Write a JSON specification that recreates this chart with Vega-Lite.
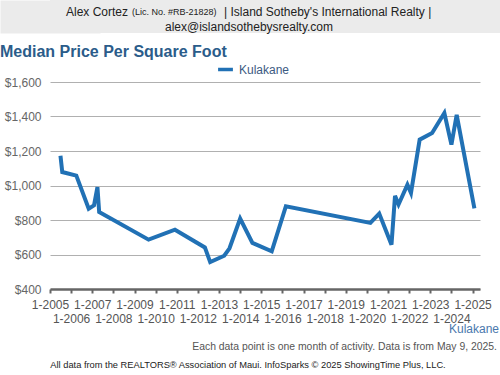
{
  "$schema": "https://vega.github.io/schema/vega-lite/v6.json",
  "padding": 0,
  "spacing": 11,
  "columns": 1,
  "background": "white",
  "resolve": {"legend": {"color": "independent"}, "scale": {"x": "independent", "y": "independent", "color": "independent"}},
  "config": {"font": "Liberation Sans", "view": {"stroke": null}},
  "concat": [
    {
      "width": 450,
      "height": 33,
      "view": {"fill": "#ebebeb", "stroke": null},
      "data": {"values": [
        {"line": 1, "part": "a", "text": "Alex Cortez"},
        {"line": 1, "part": "b", "text": "(Lic. No. #RB-21828)"},
        {"line": 1, "part": "c", "text": "| Island Sotheby's International Realty |"},
        {"line": 2, "part": "d", "text": "alex@islandsothebysrealty.com"}
      ]},
      "encoding": {
        "x": {"datum": 0.5, "type": "quantitative", "axis": null, "scale": {"domain": [0, 1]}},
        "y": {
          "field": "line", "type": "ordinal",
          "scale": {"padding": 0.6},
          "axis": {"title": null, "labels": false, "ticks": false, "grid": false, "domain": true, "domainColor": "#ebebeb", "domainWidth": 100, "domainCap": "butt", "offset": 0, "minExtent": 50, "maxExtent": 50}
        },
        "text": {"field": "text"}
      },
      "layer": [
        {"transform": [{"filter": "datum.part == 'a'"}], "mark": {"type": "text", "dx": -147, "dy": 3, "align": "right", "baseline": "middle", "fontSize": 12, "color": "#222222"}},
        {"transform": [{"filter": "datum.part == 'b'"}], "mark": {"type": "text", "dx": -143, "dy": 3, "align": "left", "baseline": "middle", "fontSize": 9, "color": "#222222"}},
        {"transform": [{"filter": "datum.part == 'c'"}], "mark": {"type": "text", "dx": -51, "dy": 3, "align": "left", "baseline": "middle", "fontSize": 12, "color": "#222222"}},
        {"transform": [{"filter": "datum.part == 'd'"}], "mark": {"type": "text", "dx": -26, "dy": 3, "align": "center", "baseline": "middle", "fontSize": 12, "color": "#222222"}}
      ]
    },
    {
      "width": 430,
      "height": 207,
      "title": {"text": "Median Price Per Square Foot", "anchor": "start", "frame": "bounds", "fontSize": 16, "fontWeight": "bold", "color": "#2b5c8a", "offset": 0},
      "layer": [
        {
          "data": {"values": [
            {"date": "2005-07-01T00:00:00", "area": "Kulakane", "price": 1172},
            {"date": "2005-08-01T00:00:00", "area": "Kulakane", "price": 1078},
            {"date": "2006-04-01T00:00:00", "area": "Kulakane", "price": 1057},
            {"date": "2006-11-01T00:00:00", "area": "Kulakane", "price": 865},
            {"date": "2007-02-01T00:00:00", "area": "Kulakane", "price": 885},
            {"date": "2007-04-01T00:00:00", "area": "Kulakane", "price": 991},
            {"date": "2007-05-01T00:00:00", "area": "Kulakane", "price": 846},
            {"date": "2009-09-01T00:00:00", "area": "Kulakane", "price": 686},
            {"date": "2010-12-01T00:00:00", "area": "Kulakane", "price": 744},
            {"date": "2012-05-01T00:00:00", "area": "Kulakane", "price": 641},
            {"date": "2012-08-01T00:00:00", "area": "Kulakane", "price": 556},
            {"date": "2013-04-01T00:00:00", "area": "Kulakane", "price": 593},
            {"date": "2013-07-01T00:00:00", "area": "Kulakane", "price": 636},
            {"date": "2014-01-01T00:00:00", "area": "Kulakane", "price": 808},
            {"date": "2014-08-01T00:00:00", "area": "Kulakane", "price": 667},
            {"date": "2015-07-01T00:00:00", "area": "Kulakane", "price": 618},
            {"date": "2016-03-01T00:00:00", "area": "Kulakane", "price": 879},
            {"date": "2020-03-01T00:00:00", "area": "Kulakane", "price": 783},
            {"date": "2020-08-01T00:00:00", "area": "Kulakane", "price": 837},
            {"date": "2021-03-01T00:00:00", "area": "Kulakane", "price": 657},
            {"date": "2021-05-01T00:00:00", "area": "Kulakane", "price": 940},
            {"date": "2021-07-01T00:00:00", "area": "Kulakane", "price": 890},
            {"date": "2021-12-01T00:00:00", "area": "Kulakane", "price": 1005},
            {"date": "2022-02-01T00:00:00", "area": "Kulakane", "price": 957},
            {"date": "2022-07-01T00:00:00", "area": "Kulakane", "price": 1266},
            {"date": "2023-02-01T00:00:00", "area": "Kulakane", "price": 1304},
            {"date": "2023-09-01T00:00:00", "area": "Kulakane", "price": 1420},
            {"date": "2024-01-01T00:00:00", "area": "Kulakane", "price": 1237},
            {"date": "2024-04-01T00:00:00", "area": "Kulakane", "price": 1410},
            {"date": "2025-02-01T00:00:00", "area": "Kulakane", "price": 868}
          ]},
          "mark": {"type": "line", "strokeWidth": 4},
          "encoding": {
            "x": {
              "field": "date", "type": "temporal",
              "scale": {"domain": [{"year": 2005, "month": 1, "date": 1}, {"year": 2025, "month": 5, "date": 9}], "nice": false},
              "axis": {
                "title": null,
                "tickCount": {"interval": "year", "step": 1},
                "labelExpr": "year(datum.value) % 2 == 1 ? '1-' + year(datum.value) : ['', '1-' + year(datum.value)]",
                "labelOverlap": false,
                "labelFlush": false,
                "labelFontSize": 12,
                "labelColor": "#555555",
                "labelLineHeight": 14,
                "labelPadding": 6,
                "tickSize": 4,
                "tickWidth": 2,
                "tickColor": "#666666",
                "domainColor": "#666666",
                "domainWidth": 2.5,
                "grid": false
              }
            },
            "y": {
              "field": "price", "type": "quantitative",
              "scale": {"domain": [400, 1600], "nice": false, "zero": false},
              "axis": {
                "title": null,
                "values": [400, 600, 800, 1000, 1200, 1400, 1600],
                "format": "$,.0f",
                "labelFontSize": 12,
                "labelColor": "#666666",
                "labelPadding": 9,
                "minExtent": 50,
                "ticks": false,
                "domain": false,
                "grid": true,
                "gridColor": "#b0b0b0",
                "gridWidth": 1
              }
            },
            "color": {
              "field": "area", "type": "nominal",
              "scale": {"range": ["#2171b5"]},
              "legend": {
                "title": null,
                "orient": "none",
                "legendX": 166,
                "legendY": -22,
                "direction": "horizontal",
                "symbolType": "stroke",
                "symbolStrokeWidth": 3.5,
                "symbolSize": 220,
                "labelFontSize": 12,
                "labelColor": "#3c5a82"
              }
            }
          }
        },
        {
          "data": {"values": [{"text": "Kulakane"}]},
          "mark": {"type": "text", "x": "width", "y": "height", "dx": 19, "dy": 40, "align": "right", "baseline": "middle", "fontSize": 12, "color": "#4a78ad"},
          "encoding": {"text": {"field": "text"}}
        },
        {
          "data": {"values": [{"text": "Each data point is one month of activity. Data is from May 9, 2025."}]},
          "mark": {"type": "text", "x": "width", "y": "height", "dx": 17, "dy": 58, "align": "right", "baseline": "middle", "fontSize": 10.4, "color": "#555555"},
          "encoding": {"text": {"field": "text"}}
        },
        {
          "data": {"values": [{"text": "All data from the REALTORS® Association of Maui. InfoSparks © 2025 ShowingTime Plus, LLC."}]},
          "mark": {"type": "text", "x": "width", "y": "height", "dx": -232, "dy": 76, "align": "center", "baseline": "middle", "fontSize": 9.3, "color": "#222222"},
          "encoding": {"text": {"field": "text"}}
        }
      ]
    }
  ]
}
